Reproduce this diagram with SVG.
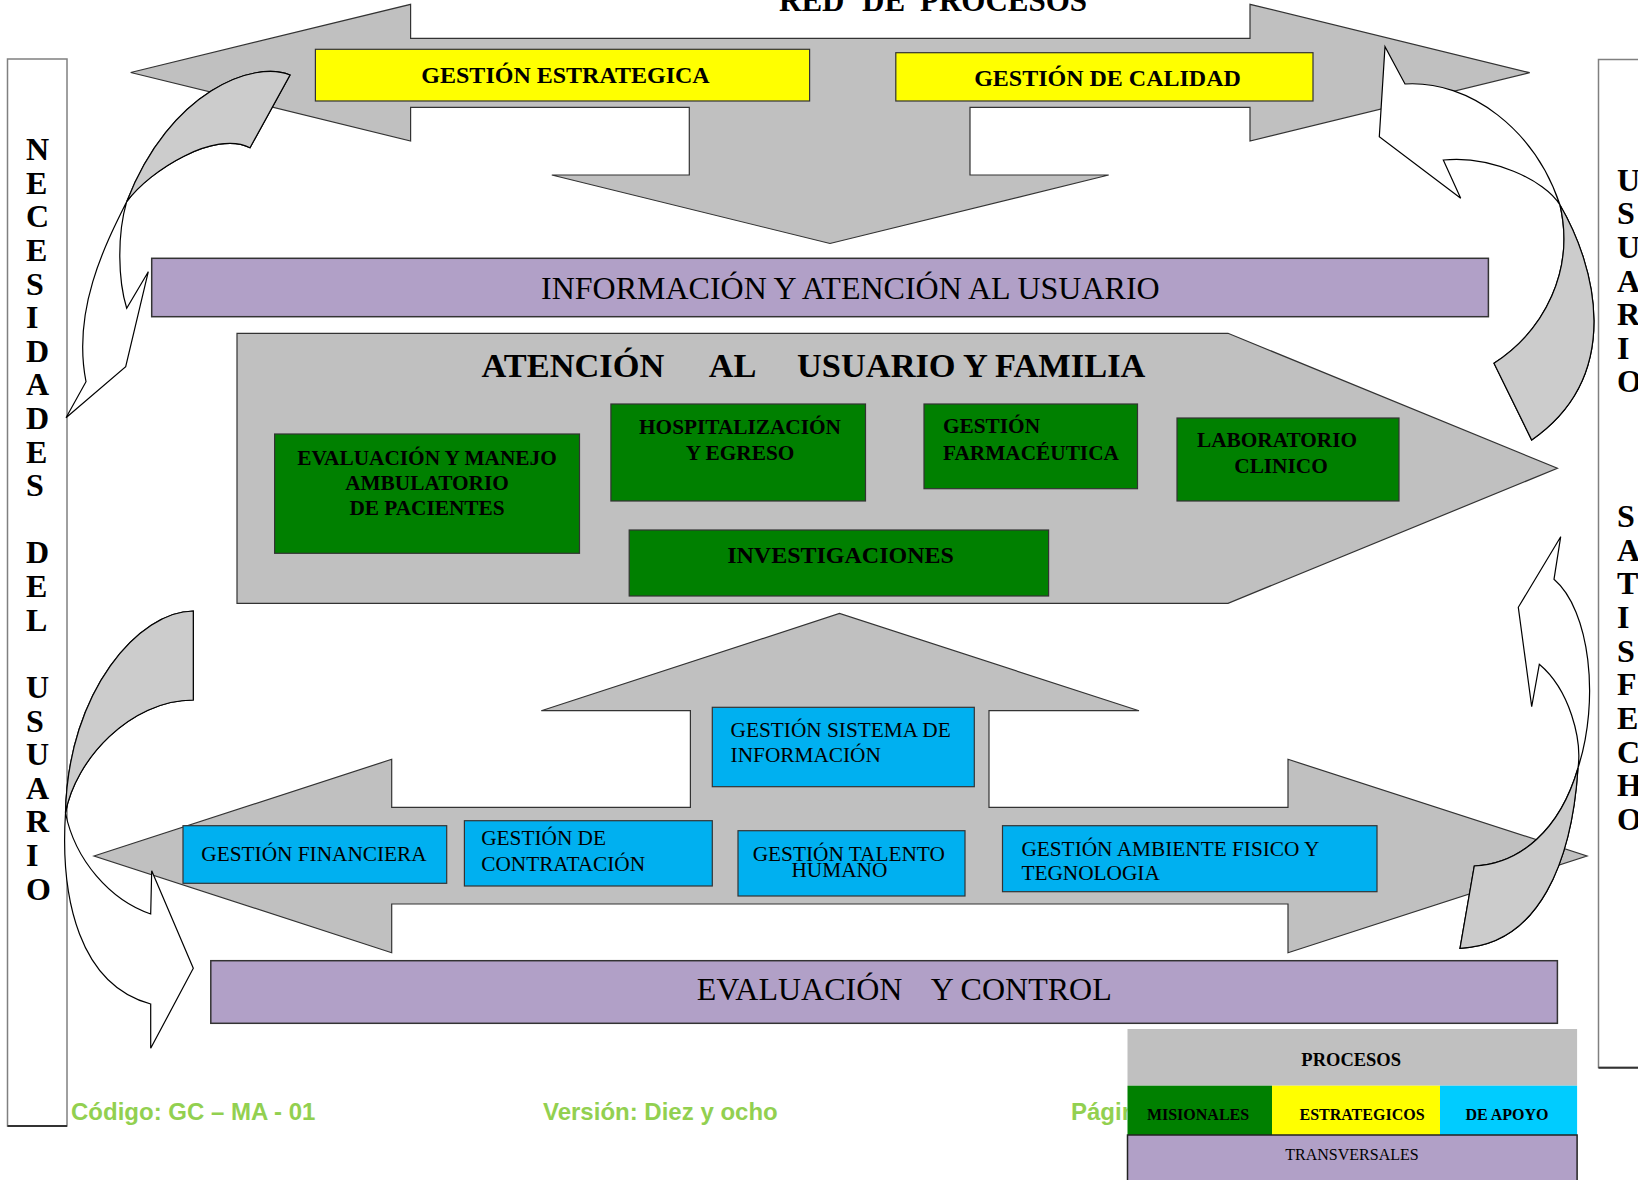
<svg xmlns="http://www.w3.org/2000/svg" width="1638" height="1180" viewBox="0 0 1638 1180">
<style>
.big{fill:#C0C0C0;stroke:#333;stroke-width:1.2}
.yel{fill:#FFFF00;stroke:#333;stroke-width:1.2}
.pur{fill:#B1A0C7;stroke:#333;stroke-width:1.5}
.grn{fill:#008000;stroke:#333;stroke-width:1.2}
.blu{fill:#00B0F0;stroke:#333;stroke-width:1.2}
.side{fill:#fff;stroke:#808080;stroke-width:1.5}
.cw{fill:#fff;stroke:#000;stroke-width:1.2;stroke-linejoin:miter}
.cg{fill:#CCCCCC;stroke:#000;stroke-width:1.2}
text{font-family:"Liberation Serif","Times New Roman",serif;fill:#000}
.b{font-weight:bold}
.s21{font-size:21.3px}
.s24{font-size:24px}
.s32{font-size:32px}
.let{font-size:32px;font-weight:bold}
.mid{text-anchor:middle}
.foot{font-family:"Liberation Sans",Arial,sans-serif;font-weight:bold;font-size:24px;fill:#92D050}
</style>
<defs>
<clipPath id="pc"><rect x="1060" y="1090" width="67.5" height="50"/></clipPath>
</defs>
<rect width="1638" height="1180" fill="#fff"/>

<g id="titulo">
<text class="b" font-size="31" y="11"><tspan x="779">RED</tspan><tspan x="862">DE</tspan><tspan x="920">PROCESOS</tspan></text>
</g>

<g id="necesidades">
<rect class="side" x="7.5" y="59" width="59.5" height="1067"/>
<line x1="7.5" y1="1126" x2="67" y2="1126" stroke="#333" stroke-width="2"/>
<text class="let">
<tspan x="26" y="160">N</tspan><tspan x="26" y="193.6">E</tspan><tspan x="26" y="227.2">C</tspan><tspan x="26" y="260.9">E</tspan><tspan x="26" y="294.5">S</tspan><tspan x="26" y="328.1">I</tspan><tspan x="26" y="361.7">D</tspan><tspan x="26" y="395.3">A</tspan><tspan x="26" y="429">D</tspan><tspan x="26" y="462.6">E</tspan><tspan x="26" y="496.2">S</tspan><tspan x="26" y="563.4">D</tspan><tspan x="26" y="597.1">E</tspan><tspan x="26" y="630.7">L</tspan><tspan x="26" y="697.9">U</tspan><tspan x="26" y="731.5">S</tspan><tspan x="26" y="765.2">U</tspan><tspan x="26" y="798.8">A</tspan><tspan x="26" y="832.4">R</tspan><tspan x="26" y="866">I</tspan><tspan x="26" y="899.6">O</tspan>
</text>
</g>

<g id="satisfecho">
<rect class="side" x="1598.5" y="59.5" width="60" height="1008"/>
<line x1="1598.5" y1="1067.7" x2="1640" y2="1067.7" stroke="#333" stroke-width="2"/>
<text class="let">
<tspan x="1617" y="190.5">U</tspan><tspan x="1617" y="224.2">S</tspan><tspan x="1617" y="257.8">U</tspan><tspan x="1617" y="291.5">A</tspan><tspan x="1617" y="325.1">R</tspan><tspan x="1617" y="358.8">I</tspan><tspan x="1617" y="392.4">O</tspan><tspan x="1617" y="527">S</tspan><tspan x="1617" y="560.7">A</tspan><tspan x="1617" y="594.3">T</tspan><tspan x="1617" y="628">I</tspan><tspan x="1617" y="661.6">S</tspan><tspan x="1617" y="695.3">F</tspan><tspan x="1617" y="728.9">E</tspan><tspan x="1617" y="762.6">C</tspan><tspan x="1617" y="796.2">H</tspan><tspan x="1617" y="829.9">O</tspan>
</text>
</g>

<g id="estrategicos">
<path class="big" d="M130.7,72.5 L410.6,4.3 L410.6,38.3 L1250,38.3 L1250,4.3 L1529.7,72.7 L1250,141 L1250,107.3 L970,107.3 L970,175 L1108.7,175 L830,243.5 L551.8,175 L689.3,175 L689.3,107.3 L410.6,107.3 L410.6,141 Z"/>
</g>
<g id="gestion-estrategica">
<rect class="yel" x="315.4" y="49.3" width="494.2" height="51.7"/>
<text class="b s24 mid" x="565.5" y="82.7">GESTIÓN ESTRATEGICA</text>
</g>
<g id="gestion-calidad">
<rect class="yel" x="895.8" y="52.7" width="417.2" height="48.3"/>
<text class="b s24 mid" x="1107.5" y="86">GESTIÓN DE CALIDAD</text>
</g>

<g id="informacion">
<rect class="pur" x="151.7" y="258.3" width="1336.7" height="58.4"/>
<text class="s32" x="541" y="299.3">INFORMACIÓN Y ATENCIÓN AL USUARIO</text>
</g>

<g id="atencion">
<path class="big" d="M237,333.3 L1228,333.3 L1557.4,468.3 L1228,603.3 L237,603.3 Z"/>
<text class="b" font-size="34.4" y="376.7"><tspan x="481.5">ATENCIÓN</tspan><tspan x="708.7">AL</tspan><tspan x="797">USUARIO Y FAMILIA</tspan></text>
</g>
<g id="evaluacion-manejo">
<rect class="grn" x="274.6" y="434" width="304.9" height="119.3"/>
<text class="b s21 mid"><tspan x="427" y="465">EVALUACIÓN Y MANEJO</tspan><tspan x="427" y="490">AMBULATORIO</tspan><tspan x="427" y="515">DE PACIENTES</tspan></text>
</g>
<g id="hospitalizacion">
<rect class="grn" x="610.9" y="404" width="254.6" height="97"/>
<text class="b s21 mid"><tspan x="740" y="434">HOSPITALIZACIÓN</tspan><tspan x="740" y="460">Y EGRESO</tspan></text>
</g>
<g id="farmaceutica">
<rect class="grn" x="924" y="404" width="213.5" height="84.7"/>
<text class="b s21"><tspan x="943" y="433.3">GESTIÓN</tspan><tspan x="943" y="460">FARMACÉUTICA</tspan></text>
</g>
<g id="laboratorio">
<rect class="grn" x="1177" y="418" width="222" height="83"/>
<text class="b s21 mid"><tspan x="1277" y="447.3">LABORATORIO</tspan><tspan x="1281" y="473.3">CLINICO</tspan></text>
</g>
<g id="investigaciones">
<rect class="grn" x="629.2" y="530" width="419.4" height="66"/>
<text class="b s24 mid" x="840.5" y="562.7">INVESTIGACIONES</text>
</g>

<g id="apoyo">
<path class="big" d="M94,856 L391.7,759.3 L391.7,807.3 L690.4,807.3 L690.4,710.7 L541.3,710.7 L839.5,613.5 L1139,710.7 L989,710.7 L989,807.3 L1288,807.3 L1288,759.3 L1587,856 L1288,952.7 L1288,904 L391.7,904 L391.7,952.7 Z"/>
</g>
<g id="sistema-informacion">
<rect class="blu" x="712.3" y="707.3" width="262" height="79.4"/>
<text class="s21"><tspan x="730.6" y="736.7">GESTIÓN SISTEMA DE</tspan><tspan x="730.6" y="762.3">INFORMACIÓN</tspan></text>
</g>
<g id="financiera">
<rect class="blu" x="183" y="825.7" width="263.7" height="57.6"/>
<text class="s21 mid" x="314" y="860.7">GESTIÓN FINANCIERA</text>
</g>
<g id="contratacion">
<rect class="blu" x="464.4" y="820.7" width="247.9" height="65.3"/>
<text class="s21"><tspan x="481.2" y="845">GESTIÓN DE</tspan><tspan x="481.2" y="870.7">CONTRATACIÓN</tspan></text>
</g>
<g id="talento-humano">
<rect class="blu" x="738" y="830.7" width="227" height="65.3"/>
<text class="s21 mid"><tspan x="848.8" y="861">GESTIÓN TALENTO</tspan><tspan x="839.4" y="876.7">HUMANO</tspan></text>
</g>
<g id="ambiente-fisico">
<rect class="blu" x="1002.5" y="825.7" width="374.5" height="66"/>
<text class="s21"><tspan x="1021.4" y="856">GESTIÓN AMBIENTE FISICO Y</tspan><tspan x="1021.4" y="880">TEGNOLOGIA</tspan></text>
</g>

<g id="evaluacion-control">
<rect class="pur" x="210.8" y="960.7" width="1346.6" height="62.6"/>
<text class="s32" y="1000"><tspan x="696.8">EVALUACIÓN</tspan><tspan x="930.7">Y CONTROL</tspan></text>
</g>

<g id="connectors">
<path class="cw" d="M290,75 C255,60 170,90 126.7,201.7 C105,245 72,310 86,381.7 L66,417.7 L125.7,366.7 L148.3,271.7 L126.7,308.3 C118,280 117,235 126.7,201.7 C150,170 215,130 250,147.7 Z"/>
<path class="cg" d="M290,75 C255,60 170,90 126.7,201.7 C150,170 215,130 250,147.7 Z"/>
<path class="cw" d="M1405,84 C1470,80 1535,130 1560,205 C1595,265 1625,375 1531.7,440 L1494,363.3 C1545,330 1575,270 1560,205 C1545,180 1490,155 1443.3,160 L1460.7,198.3 L1379.3,136.7 L1385,46.7 Z"/>
<path class="cg" d="M1560,205 C1595,265 1625,375 1531.7,440 L1494,363.3 C1545,330 1575,270 1560,205 Z"/>
<path class="cw" d="M193.3,611 C140,611 68,690 65.5,813 C60,900 80,985 150.7,1004 L150.7,1048.3 L193.3,968.3 L151.7,870.7 L150.7,914 C110,900 75,860 65.5,813 C75,760 130,700 193.3,700 Z"/>
<path class="cg" d="M193.3,611 C140,611 68,690 65.5,813 C75,760 130,700 193.3,700 Z"/>
<path class="cw" d="M1554,579.3 C1590,610 1600,700 1578,768 C1572,860 1540,945 1460,948.3 L1474.3,866 C1520,864 1560,830 1578,768 C1582,740 1570,690 1539.3,664.3 L1531.7,706.7 L1518.3,607.3 L1560.7,536.7 Z"/>
<path class="cg" d="M1578,768 C1572,860 1540,945 1460,948.3 L1474.3,866 C1520,864 1560,830 1578,768 Z"/>
</g>

<g id="pie">
<text class="foot" x="71" y="1120">Código: GC – MA - 01</text>
<text class="foot" x="543" y="1120">Versión: Diez y ocho</text>
<text class="foot" x="1071" y="1120" clip-path="url(#pc)">Página</text>
</g>

<g id="leyenda">
<rect x="1127.5" y="1029" width="449.6" height="56.7" fill="#C0C0C0"/>
<text class="b mid" font-size="18.5" x="1351.2" y="1066">PROCESOS</text>
<rect x="1127.5" y="1085.7" width="144.5" height="49.3" fill="#008000"/>
<rect x="1272" y="1085.7" width="168" height="49.3" fill="#FFFF00"/>
<rect x="1440" y="1085.7" width="137.1" height="49.3" fill="#00CCFF"/>
<text class="b mid" font-size="16"><tspan x="1198" y="1120">MISIONALES</tspan><tspan x="1362" y="1120">ESTRATEGICOS</tspan><tspan x="1507" y="1120">DE APOYO</tspan></text>
<rect x="1127.5" y="1135" width="449.6" height="50" fill="#B1A0C7" stroke="#222" stroke-width="1.5"/>
<text class="mid" font-size="16" x="1352" y="1160">TRANSVERSALES</text>
</g>
</svg>
